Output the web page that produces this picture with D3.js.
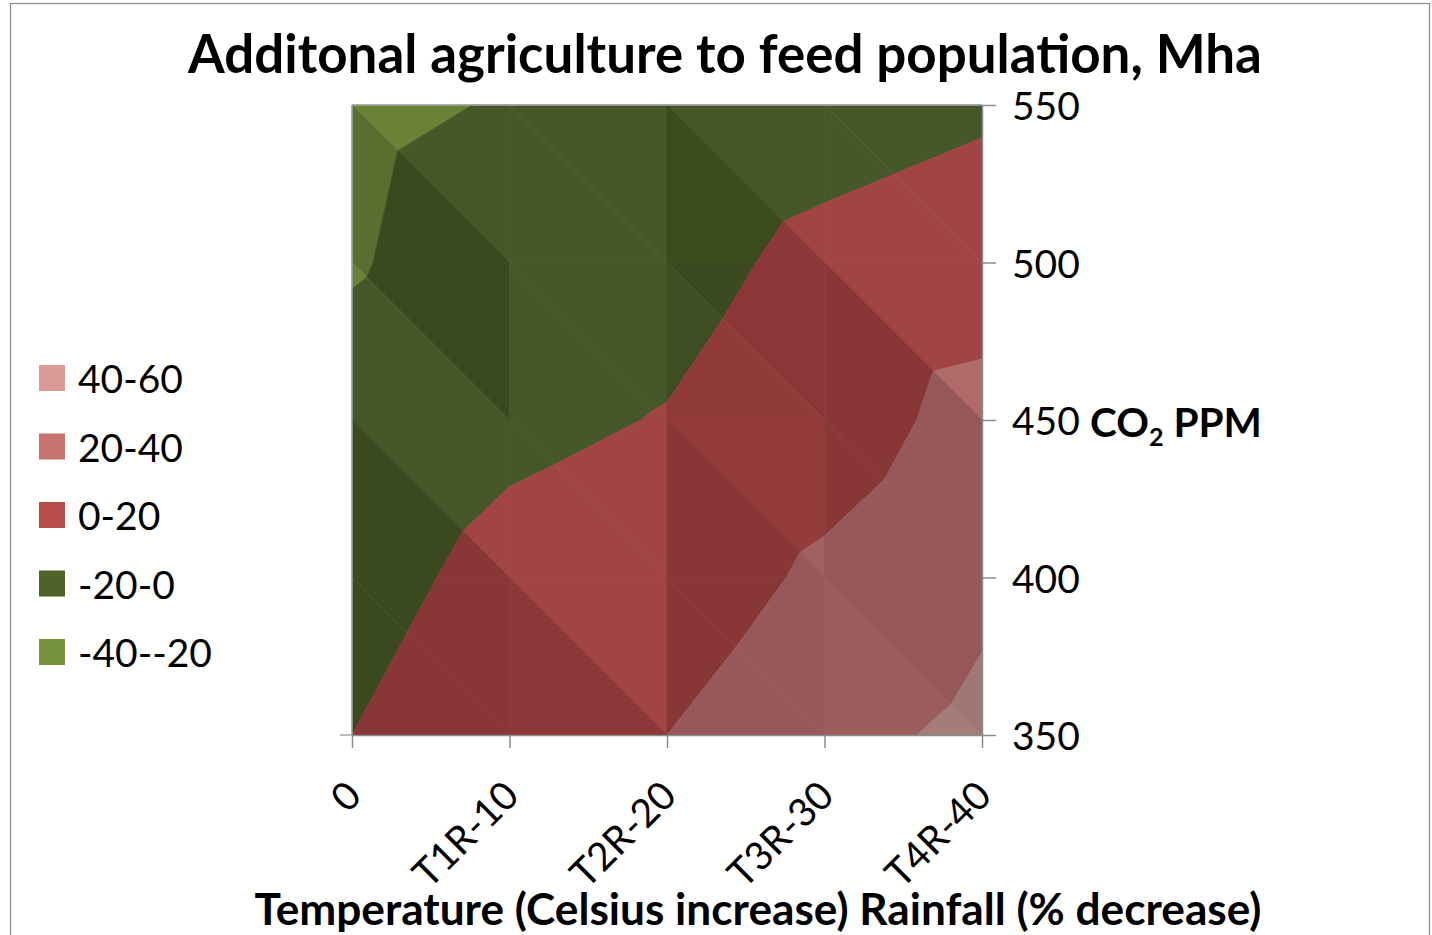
<!DOCTYPE html>
<html>
<head>
<meta charset="utf-8">
<script src="https://cdn.jsdelivr.net/npm/d3@7"></script>
<style>
  body { margin: 0; background: #fff; }
  svg { display: block; }
  text { font-family: Lato, "Open Sans", "DejaVu Sans", sans-serif; fill: #000; }
</style>
</head>
<body>
<svg id="chart" width="1432" height="935"></svg>
<script>
// Scenarios along the horizontal axis and CO2 concentrations on the vertical axis
const scenarios = ["0", "T1R-10", "T2R-20", "T3R-30", "T4R-40"];
const co2Levels = [350, 400, 450, 500, 550];

// Additional agricultural area (Mha) per scenario, one row per CO2 level
const ppm350 = [0, 10.4, 20, 34.3, 44.0];
const ppm400 = [-5.6, 4.8, 8.8, 23.6, 36.4];
const ppm450 = [-11.5, -3.5, 0.7, 10, 27.1];
const ppm500 = [-21.7, -9, -5.5, 4.2, 8.8];
const ppm550 = [-24.5, -18.6, -11.9, -6.9, -2.3];

// Contour bands
const bandLabels = ["-40--20", "-20-0", "0-20", "20-40", "40-60"];
const bandBreaks = [-40, -20, 0, 20, 40, 60];
const co2Ticks = [350, 400, 450, 500, 550];

// Swatch colours and the lit (dark / bright facet) colours of each band
const legendColors = ["#77933c", "#4f6228", "#b94c4a", "#c97371", "#d99a98"];
const facetDark  = ["#5a6e2f", "#3b4a1e", "#893636", "#965858", "#9f7876"];
const facetLight = ["#6a8236", "#46572a", "#a14444", "#b06a6a", "#b88a88"];

const grid = [ppm350, ppm400, ppm450, ppm500, ppm550];

const svg = d3.select("#chart");
const W = 1432, H = 935;

// outer chart border
svg.append("rect")
  .attr("x", 10.5).attr("y", 3.5)
  .attr("width", W - 13).attr("height", H + 20)
  .attr("fill", "#fff").attr("stroke", "#8c8c8c").attr("stroke-width", 1.2);

const x = d3.scalePoint().domain(scenarios).range([352, 982]);
const y = d3.scaleLinear().domain([350, 550]).range([735, 105]);

const pt = (c, r) => ({ x: x(scenarios[c]), y: y(co2Levels[r]), z: grid[r][c] });

// Keep the part of a polygon above (or below) a level of the surface value
function clipPoly(poly, level, keepAbove) {
  const out = [];
  for (let i = 0; i < poly.length; i++) {
    const p = poly[i], q = poly[(i + 1) % poly.length];
    const pin = keepAbove ? p.z >= level : p.z <= level;
    const qin = keepAbove ? q.z >= level : q.z <= level;
    if (pin) out.push(p);
    if (pin !== qin) {
      const t = (level - p.z) / (q.z - p.z);
      out.push({ x: p.x + t * (q.x - p.x), y: p.y + t * (q.y - p.y), z: level });
    }
  }
  return out;
}

// Facet lighting: facets that climb steeply along the scenario axis fall into shadow
function facetLight01(gx, gy) {
  const v = 0.5 + (9 - gx) / 2 + 0.02 * (-gy - 8);
  return Math.max(0, Math.min(1, v));
}

// Build the triangulated surface: each cell is split along its falling diagonal
const facets = [];
for (let r = 0; r < co2Levels.length - 1; r++) {
  for (let c = 0; c < scenarios.length - 1; c++) {
    const tl = pt(c, r + 1), tr = pt(c + 1, r + 1), br = pt(c + 1, r), bl = pt(c, r);
    facets.push({ tri: [tl, tr, br], gx: tr.z - tl.z, gy: tr.z - br.z });
    facets.push({ tri: [tl, bl, br], gx: br.z - bl.z, gy: tl.z - bl.z });
  }
}

const pieces = [];
facets.forEach(f => {
  const t = facetLight01(f.gx, f.gy);
  for (let b = 0; b < bandLabels.length; b++) {
    let poly = clipPoly(f.tri, bandBreaks[b], true);
    if (poly.length >= 3) poly = clipPoly(poly, bandBreaks[b + 1], false);
    if (poly.length >= 3) {
      pieces.push({ poly, color: d3.interpolateRgb(facetDark[b], facetLight[b])(t) });
    }
  }
});

const line = d3.line().x(d => d.x).y(d => d.y).curve(d3.curveLinearClosed);
svg.append("g").attr("class", "surface")
  .selectAll("path").data(pieces).join("path")
  .attr("d", d => line(d.poly))
  .attr("fill", d => d.color)
  .attr("stroke", d => d.color)
  .attr("stroke-width", 0.7)
  .attr("stroke-linejoin", "round");

// plot frame (top and left edges)
const [x0, x1] = x.range();
const [yBot, yTop] = y.range();
const frame = svg.append("g").attr("stroke", "#a6a6a6").attr("stroke-width", 1.5).attr("fill", "none");
frame.append("line").attr("x1", x0).attr("x2", x1).attr("y1", yTop).attr("y2", yTop);
frame.append("line").attr("x1", x0).attr("x2", x0).attr("y1", yTop).attr("y2", yBot);
frame.append("line").attr("x1", x0 - 12).attr("x2", x0).attr("y1", yBot).attr("y2", yBot);

// Right-hand CO2 axis
const yAxis = svg.append("g")
  .attr("transform", `translate(${x1},0)`)
  .call(d3.axisRight(y).tickValues(co2Ticks).tickSize(14).tickPadding(16).tickSizeOuter(0));
yAxis.select(".domain").attr("stroke", "#8c8c8c").attr("stroke-width", 1.5);
yAxis.selectAll(".tick line").attr("stroke", "#8c8c8c").attr("stroke-width", 1.5);
yAxis.selectAll(".tick text").attr("font-size", 39).attr("fill", "#000").attr("dy", "0.38em")
  .style("font-family", "Lato, 'Open Sans', sans-serif");

// Bottom scenario axis
const xAxis = svg.append("g")
  .attr("transform", `translate(0,${yBot})`)
  .call(d3.axisBottom(x).tickSize(13).tickSizeOuter(0));
xAxis.select(".domain").attr("stroke", "#8c8c8c").attr("stroke-width", 1.5);
xAxis.selectAll(".tick line").attr("stroke", "#8c8c8c").attr("stroke-width", 1.5);
xAxis.selectAll(".tick text")
  .attr("x", 0).attr("y", 0).attr("dy", null)
  .attr("text-anchor", "end")
  .attr("transform", "translate(11,63) rotate(-45)")
  .attr("font-size", 39).attr("fill", "#000")
  .style("font-family", "Lato, 'Open Sans', sans-serif");

// Scale a text's font size so that it spans a given width
function fitWidth(sel, width) {
  const node = sel.node();
  const size = parseFloat(sel.attr("font-size"));
  const w = node.getComputedTextLength();
  sel.attr("font-size", (size * width / w).toFixed(2));
}

// Title
const title = svg.append("text")
  .attr("x", 725).attr("y", 73)
  .attr("text-anchor", "middle")
  .attr("font-weight", "bold").attr("font-size", 48)
  .text("Additonal agriculture to feed population, Mha");
fitWidth(title, 1074);

// Horizontal axis title
const xTitle = svg.append("text")
  .attr("x", 758).attr("y", 925)
  .attr("text-anchor", "middle")
  .attr("font-weight", "bold").attr("font-size", 40)
  .text("Temperature (Celsius increase) Rainfall (% decrease)");
fitWidth(xTitle, 1007);

// Vertical axis title with subscript
const yTitle = svg.append("text")
  .attr("x", 1090).attr("y", 437)
  .attr("font-weight", "bold").attr("font-size", 39);
yTitle.append("tspan").text("CO");
yTitle.append("tspan").attr("font-size", "0.62em").attr("dy", 9).text("2");
yTitle.append("tspan").attr("dy", -9).text(" PPM");
fitWidth(yTitle, 172);

// Legend
const legendOrder = d3.range(bandLabels.length).reverse();
const legend = svg.append("g").attr("class", "legend");
const legendY = d3.scalePoint().domain(legendOrder).range([365, 639]);
const items = legend.selectAll("g").data(legendOrder).join("g")
  .attr("transform", d => `translate(39,${legendY(d)})`);
items.append("rect").attr("width", 26).attr("height", 26)
  .attr("fill", d => legendColors[d]);
items.append("text").attr("x", 39).attr("y", 28)
  .attr("font-size", 39).text(d => bandLabels[d]);
</script>
</body>
</html>
